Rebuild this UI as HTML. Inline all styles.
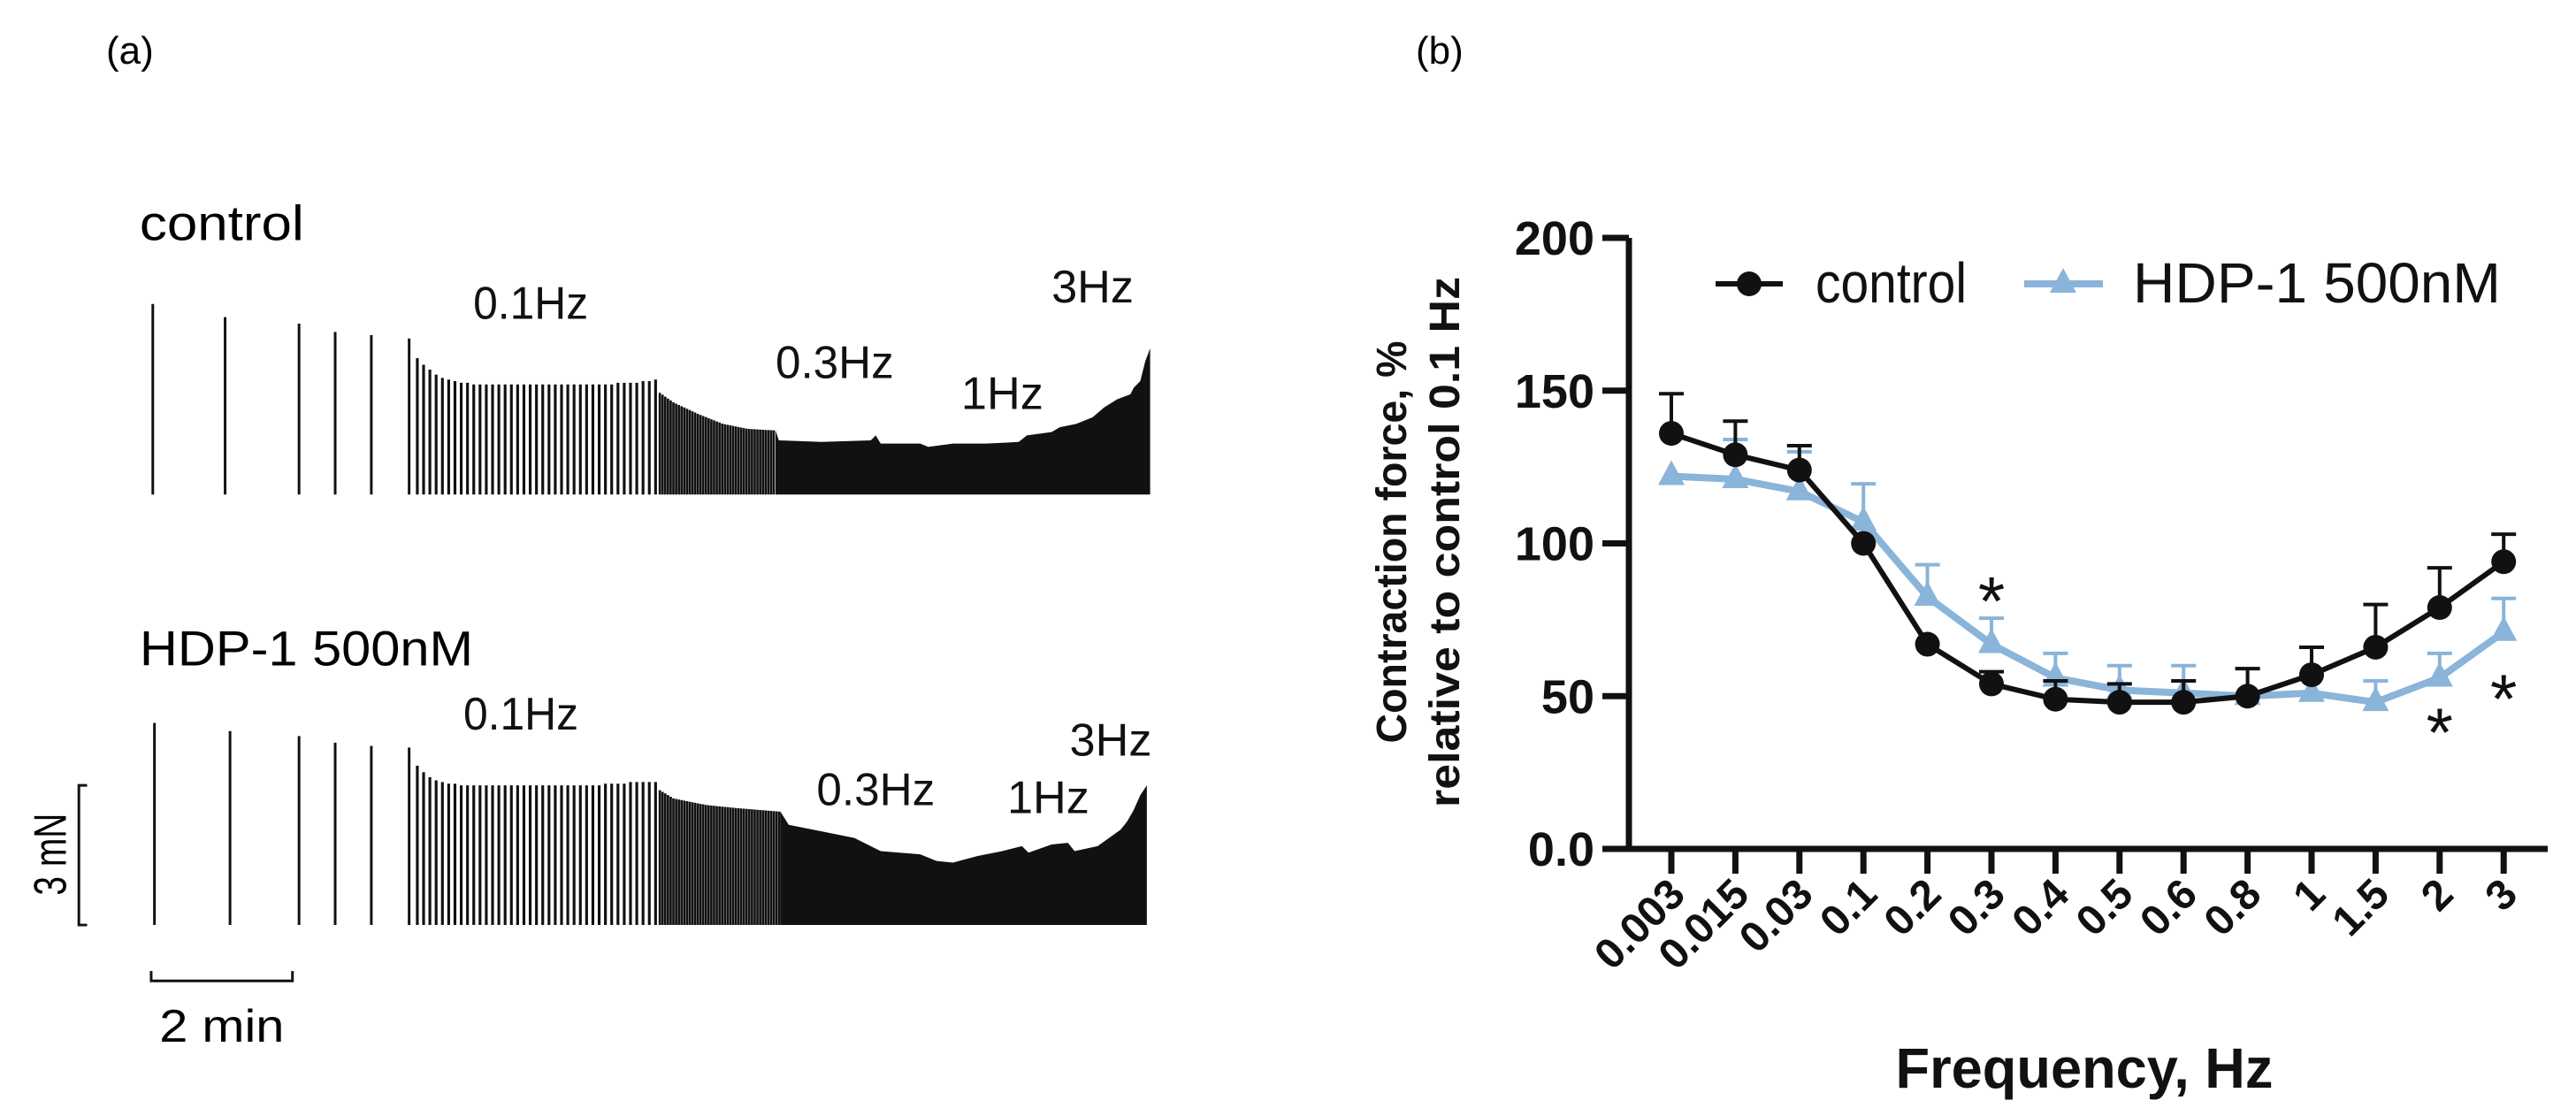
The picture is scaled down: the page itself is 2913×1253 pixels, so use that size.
<!DOCTYPE html>
<html><head><meta charset="utf-8"><style>
html,body{margin:0;padding:0;background:#fff;}
svg{display:block;}
text{font-family:"Liberation Sans",Arial,sans-serif;}
</style></head><body>
<svg id="fig" width="2913" height="1253" viewBox="0 0 2913 1253" xmlns="http://www.w3.org/2000/svg">
<rect width="2913" height="1253" fill="#fff"/>
<text x="120" y="72" font-size="44">(a)</text>
<text x="1601" y="72" font-size="44">(b)</text>
<g id="left" transform="scale(1.858)">
  <text x="85" y="146" font-size="30" textLength="100" lengthAdjust="spacingAndGlyphs">control</text>
  <text x="85" y="405" font-size="30" textLength="203" lengthAdjust="spacingAndGlyphs">HDP-1 500nM</text>
  <g font-size="28" fill="#111">
    <text x="288" y="194" textLength="70" lengthAdjust="spacingAndGlyphs">0.1Hz</text>
    <text x="472" y="230" textLength="72" lengthAdjust="spacingAndGlyphs">0.3Hz</text>
    <text x="585" y="249" textLength="50" lengthAdjust="spacingAndGlyphs">1Hz</text>
    <text x="640" y="184" textLength="50" lengthAdjust="spacingAndGlyphs">3Hz</text>
    <text x="282" y="444" textLength="70" lengthAdjust="spacingAndGlyphs">0.1Hz</text>
    <text x="497" y="490" textLength="72" lengthAdjust="spacingAndGlyphs">0.3Hz</text>
    <text x="613" y="495" textLength="50" lengthAdjust="spacingAndGlyphs">1Hz</text>
    <text x="651" y="460" textLength="50" lengthAdjust="spacingAndGlyphs">3Hz</text>
  </g>
  <g id="traces"></g>
  <path d="M53,478 H48 V563 H53" fill="none" stroke="#111" stroke-width="1.6"/>
  <text transform="translate(40,520) rotate(-90)" text-anchor="middle" font-size="28" textLength="50" lengthAdjust="spacingAndGlyphs">3 mN</text>
  <path d="M92,591 V597 H178 V591" fill="none" stroke="#111" stroke-width="1.6"/>
  <text x="97" y="634" font-size="28" textLength="76" lengthAdjust="spacingAndGlyphs">2 min</text>
</g>
<g id="chart"></g>
</svg>
<script>
// ---- left traces data (amplitude in display units, time in display units) ----
const ctrlSlowTimes = [93,137,182,204,226,249];
const ctrlSlowTops = [185,193,197,202,204,206];
const ctrlDenseTops = [218,222,225,228,230,231,232,233,233,234,234,234,234,234,234,234,234,234,234,234,234,234,234,234,234,234,234,234,234,234,234,234,233,233,233,233,232,232,231];
const ctrlMidEnv = [[400,238],[410,245],[425,252],[440,258],[455,261],[472,262]];
const ctrlFill = [[472,262],[474,268],[500,269],[530,268],[533,265],[536,270],[560,270],[565,272],[580,270],[600,270],[620,269],[625,265],[640,263],[645,260],[655,258],[665,254],[672,248],[680,243],[688,240],[690,236],[694,232],[697,220],[700,212]];
const hdpSlowTimes = [94,140,182,204,226,249];
const hdpSlowTops = [440,445,448,452,454,455];
const hdpDenseTops = [466,470,473,475,476,477,477,478,478,478,478,478,478,478,478,478,478,478,478,478,478,478,478,478,478,478,478,478,478,478,477,477,477,477,476,476,476,476,476];
const hdpMidEnv = [[400,480],[410,486],[430,490],[450,492],[475,494]];
const hdpFill = [[475,494],[480,502],[500,506],[520,510],[536,518],[560,520],[570,524],[580,525],[595,521],[610,518],[622,515],[626,519],[640,514],[650,513],[654,518],[668,515],[675,510],[682,505],[686,500],[690,493],[694,484],[698,478]];

const NS='http://www.w3.org/2000/svg';
const tg=document.getElementById('traces');
function ln(x,y1,y2,w,name){const l=document.createElementNS(NS,'line');l.setAttribute('x1',x);l.setAttribute('x2',x);l.setAttribute('y1',y1);l.setAttribute('y2',y2);l.setAttribute('stroke','#111');l.setAttribute('stroke-width',w);


tg.appendChild(l);}
function envAt(env,x){for(let i=0;i<env.length-1;i++){if(x<=env[i+1][0]){const t=(x-env[i][0])/(env[i+1][0]-env[i][0]);return env[i][1]+t*(env[i+1][1]-env[i][1]);}}return env[env.length-1][1];}
function trace(slowT,slowTop,dense,midEnv,fill,base,pref){
  slowT.forEach((t,i)=>ln(t,slowTop[i],base,1.6,pref+'-slow-contraction'));
  const d0=254,d1=399,step=(d1-d0)/(dense.length-1);
  dense.forEach((v,i)=>ln(d0+i*step,v,base,1.7,pref+'-0.1hz-contraction'));
  for(let x=midEnv[0][0]+1.6;x<midEnv[midEnv.length-1][0];x+=1.65)ln(x,envAt(midEnv,x),base,1.45,pref+'-0.3hz-contraction');
  const p=document.createElementNS(NS,'path');
  p.setAttribute('d','M'+fill.map(q=>q.join(',')).join(' L')+' L'+fill[fill.length-1][0]+','+base+' L'+fill[0][0]+','+base+'Z');
  p.setAttribute('fill','#111');
  
  
  tg.appendChild(p);
}
trace(ctrlSlowTimes,ctrlSlowTops,ctrlDenseTops,ctrlMidEnv,ctrlFill,301,'control');
trace(hdpSlowTimes,hdpSlowTops,hdpDenseTops,hdpMidEnv,hdpFill,563,'hdp');

// ---- right chart data ----
const categories = ['0.003','0.015','0.03','0.1','0.2','0.3','0.4','0.5','0.6','0.8','1','1.5','2','3'];
const controlMean = [136,129,124,100,67,54,49,48,48,50,57,66,79,94];
const controlErr = [13,11,8,0,0,4,6,6,7,9,9,14,13,9];
const hdpMean = [122,121,117,107,82.5,67,56,52,51,50,51,48,56,71];
const hdpErr = [0,13,13,12.5,10.5,8.5,8,8,9,9,0,7,8,11];
const yTicks = [0,50,100,150,200];
const yTickLabels = ['0.0','50','100','150','200'];
const sigCategories = ['0.3','2','3'];
const sigValues = [85,42,53];

const cg=document.getElementById('chart');
const X0=1890, DX=72.4, Y0=960, YS=3.455;
const xs=i=>X0+i*DX, ys=v=>Y0-v*YS;
function el(tag,attrs,parent){const e=document.createElementNS(NS,tag);for(const k in attrs)e.setAttribute(k,attrs[k]);(parent||cg).appendChild(e);return e;}
let a=el('path',{d:`M1842,${ys(200)} V${Y0} H2881`,fill:'none',stroke:'#111','stroke-width':7});


yTicks.forEach((v,i)=>{
  const t=el('line',{x1:1812,x2:1842,y1:ys(v),y2:ys(v),stroke:'#111','stroke-width':7});
  
  
  const tx=el('text',{x:1803,y:ys(v)+19,'text-anchor':'end','font-size':54,'font-weight':'bold',fill:'#111'});
  tx.textContent=yTickLabels[i];
  
  
});
categories.forEach((c,i)=>{
  const t=el('line',{x1:xs(i),x2:xs(i),y1:Y0,y2:988,stroke:'#111','stroke-width':7});
  
  
  const tx=el('text',{transform:`translate(${xs(i)+18},1014) rotate(-45)`,'text-anchor':'end','font-size':48,'font-weight':'bold',fill:'#111'});
  tx.textContent=c;
  
  
});
function series(mean,err,color,w,marker,name){
  const g=el('g',{});
  
  
  mean.forEach((v,i)=>{ if(err[i]>0){
    const e=el('path',{d:`M${xs(i)},${ys(v)} V${ys(v+err[i])} M${xs(i)-14},${ys(v+err[i])} H${xs(i)+14}`,stroke:color,'stroke-width':4,fill:'none'},g);
    
    
  }});
  const l=el('polyline',{points:mean.map((v,i)=>xs(i)+','+ys(v)).join(' '),fill:'none',stroke:color,'stroke-width':w,'stroke-linejoin':'round'},g);
  
  
  mean.forEach((v,i)=>{
    let m;
    if(marker==='circle') m=el('circle',{cx:xs(i),cy:ys(v),r:14,fill:color},g);
    else m=el('path',{d:`M${xs(i)},${ys(v)-18} L${xs(i)+15},${ys(v)+10} L${xs(i)-15},${ys(v)+10}Z`,fill:color},g);
    
    
  });
}
series(hdpMean,hdpErr,'#8ab4d9',8,'tri','hdp');
series(controlMean,controlErr,'#111',6,'circle','control');
sigCategories.forEach((c,i)=>{
  const t=el('text',{x:xs(categories.indexOf(c)),y:ys(sigValues[i])+40,'text-anchor':'middle','font-size':78,fill:'#111'});
  t.textContent='*';
  
  
});
const lg=el('g',{});


el('line',{x1:1940,x2:2016,y1:321,y2:321,stroke:'#111','stroke-width':6},lg);
el('circle',{cx:1978,cy:321,r:14,fill:'#111'},lg);
let lt=el('text',{x:2053,y:342,'font-size':64,fill:'#111',textLength:171,lengthAdjust:'spacingAndGlyphs'},lg);lt.textContent='control';


el('line',{x1:2289,x2:2378,y1:321,y2:321,stroke:'#8ab4d9','stroke-width':8},lg);
el('path',{d:'M2333,303 L2348,331 L2318,331Z',fill:'#8ab4d9'},lg);
lt=el('text',{x:2412,y:342,'font-size':64,fill:'#111',textLength:416,lengthAdjust:'spacingAndGlyphs'},lg);lt.textContent='HDP-1 500nM';


let t1=el('text',{transform:'translate(1590,613) rotate(-90)','text-anchor':'middle','font-size':48,'font-weight':'bold',fill:'#111',textLength:455,lengthAdjust:'spacingAndGlyphs'});
t1.textContent='Contraction force, %';


let t2=el('text',{transform:'translate(1650,613) rotate(-90)','text-anchor':'middle','font-size':48,'font-weight':'bold',fill:'#111',textLength:600,lengthAdjust:'spacingAndGlyphs'});
t2.textContent='relative to control 0.1 Hz';


let t3=el('text',{x:2357,y:1230,'text-anchor':'middle','font-size':64,'font-weight':'bold',fill:'#111',textLength:427,lengthAdjust:'spacingAndGlyphs'});
t3.textContent='Frequency, Hz';


</script>
</body></html>
